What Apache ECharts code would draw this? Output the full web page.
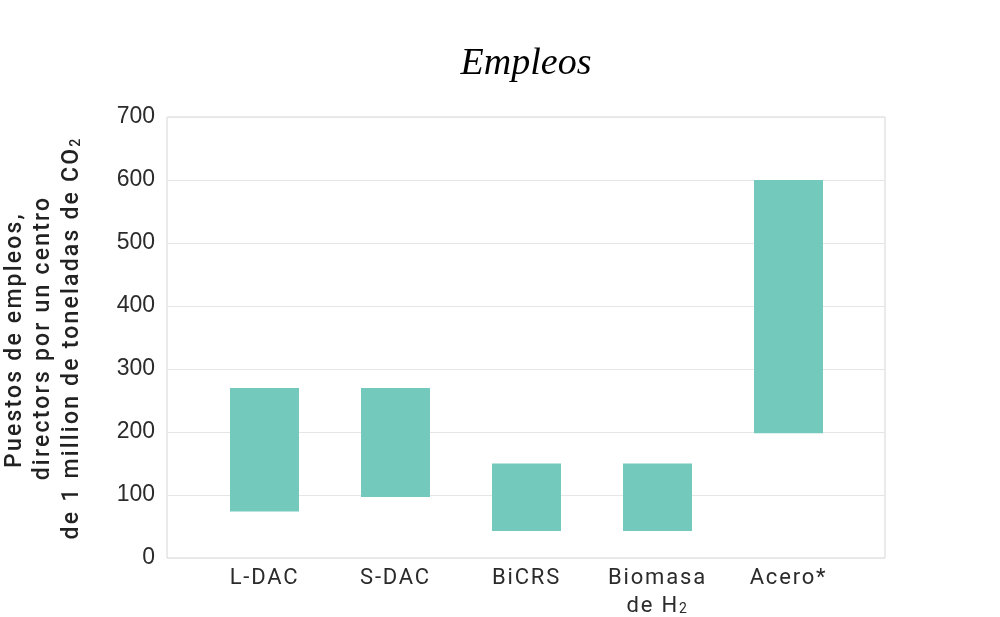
<!DOCTYPE html>
<html style="height: 100%">
<head>
<meta charset="utf-8">
<script src="https://cdn.jsdelivr.net/npm/echarts@6/dist/echarts.min.js"></script>
</head>
<body style="height: 100%; margin: 0; background: #fff">
<div id="container" style="width: 1000px; height: 617px"></div>
<script>
// categories and ranges (jobs per 1 Mt CO2 plant)
var categories = ['L-DAC', 'S-DAC', 'BiCRS', 'Biomasa\nde H{sub|2}', 'Acero*'];
var lowValues = [74, 97, 43, 43, 198];
var highValues = [270, 270, 150, 150, 600];
var yTicks = [0, 100, 200, 300, 400, 500, 600, 700];

var tickFont = '"Liberation Sans", Arial, sans-serif';
var labelFont = 'Roboto, "Liberation Sans", sans-serif';
var textColor = '#2b2b2b';
var barColor = '#73c9bb';

// the reference text is tracked out a bit; canvas letterSpacing for the Roboto texts only
(function () {
    var proto = window.CanvasRenderingContext2D && CanvasRenderingContext2D.prototype;
    if (!proto || !('letterSpacing' in proto)) return;
    var fill = proto.fillText, measure = proto.measureText;
    function spacing(ctx) {
        var f = ctx.font || '';
        if (f.indexOf('Roboto') < 0) ctx.letterSpacing = '0px';
        else ctx.letterSpacing = f.indexOf('500') >= 0 ? '2.2px' : '1.8px';
    }
    proto.fillText = function () { spacing(this); return fill.apply(this, arguments); };
    proto.measureText = function () { spacing(this); return measure.apply(this, arguments); };
})();

var rangeValues = highValues.map(function (h, i) { return h - lowValues[i]; });

var dom = document.getElementById('container');
var myChart = echarts.init(dom, null, {renderer: 'canvas'});

var option = {
    backgroundColor: '#ffffff',
    animation: false,
    title: {
        text: 'Empleos',
        left: 521,
        textAlign: 'center',
        top: 40,
        textStyle: {
            fontFamily: '"Liberation Serif", "Times New Roman", serif',
            fontStyle: 'italic',
            fontWeight: 'normal',
            fontSize: 38,
            color: '#000'
        }
    },
    grid: [
        {left: 167, right: 115, top: 117, bottom: 59, outerBoundsMode: 'none', show: true,
         borderColor: '#d6d6d6', borderWidth: 1, backgroundColor: 'transparent'},
        {left: 199, right: 146, top: 117, bottom: 59, outerBoundsMode: 'none'}
    ],
    xAxis: [
        {type: 'value', gridIndex: 0, show: false, min: 0, max: 1},
        {
            type: 'category',
            gridIndex: 1,
            data: categories,
            axisLine: {show: false},
            axisTick: {show: false},
            axisLabel: {
                interval: 0,
                margin: 6,
                fontFamily: labelFont,
                fontSize: 22,
                lineHeight: 28,
                color: textColor,
                rich: {
                    sub: {fontSize: 14, fontFamily: labelFont, color: textColor, verticalAlign: 'middle', padding: [6, 0, 0, 0]}
                }
            }
        }
    ],
    yAxis: [
        {
            type: 'value',
            gridIndex: 0,
            min: yTicks[0],
            max: yTicks[yTicks.length - 1],
            interval: yTicks[1] - yTicks[0],
            axisLine: {show: false},
            axisTick: {show: false},
            axisLabel: {
                margin: 12,
                fontFamily: tickFont,
                fontSize: 23,
                color: textColor
            },
            splitLine: {lineStyle: {color: '#e6e6e6', width: 1}}
        },
        {
            type: 'value',
            gridIndex: 1,
            min: yTicks[0],
            max: yTicks[yTicks.length - 1],
            show: false,
            splitLine: {show: false}
        }
    ],
    graphic: [
        {type: 'text', x: 15, y: 340, rotation: Math.PI / 2,
         style: {text: 'Puestos de empleos,', font: '500 23px ' + labelFont, fill: '#222', align: 'center', verticalAlign: 'middle'}},
        {type: 'text', x: 43, y: 338, rotation: Math.PI / 2,
         style: {text: 'directors por un centro', font: '500 23px ' + labelFont, fill: '#222', align: 'center', verticalAlign: 'middle'}},
        {type: 'text', x: 72, y: 338, rotation: Math.PI / 2,
         style: {text: 'de 1 million de toneladas de CO{sub|2}', font: '500 23px ' + labelFont, fill: '#222', align: 'center', verticalAlign: 'middle',
                 rich: {sub: {font: '500 14px ' + labelFont, fill: '#222', verticalAlign: 'middle', padding: [8, 0, 0, 0]}}}}
    ],
    series: [
        {
            name: 'base',
            type: 'bar',
            stack: 'range',
            xAxisIndex: 1,
            yAxisIndex: 1,
            data: lowValues,
            barWidth: 69,
            silent: true,
            itemStyle: {color: 'transparent'}
        },
        {
            name: 'Empleos',
            type: 'bar',
            stack: 'range',
            xAxisIndex: 1,
            yAxisIndex: 1,
            data: rangeValues,
            barWidth: 69,
            itemStyle: {color: barColor}
        }
    ]
};

myChart.setOption(option);
</script>
</body>
</html>
